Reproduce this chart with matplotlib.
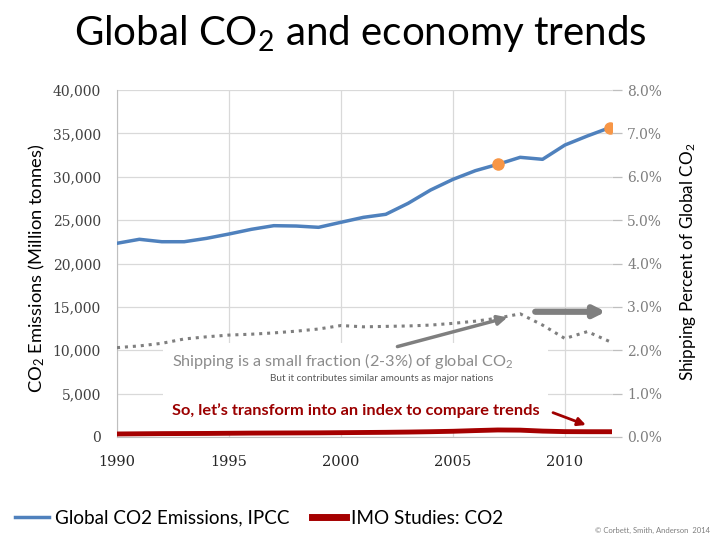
import matplotlib
matplotlib.use("Agg")
import matplotlib.pyplot as plt
from matplotlib.lines import Line2D
from matplotlib.patches import Rectangle
from matplotlib.ticker import FuncFormatter

plt.rcParams['font.family'] = ['Lato', 'DejaVu Sans']
plt.rcParams['mathtext.default'] = 'regular'

years = list(range(1990, 2013))
global_co2 = [22330, 22790, 22510, 22510, 22900, 23400, 23940, 24360, 24320, 24170, 24750, 25320,
              25670, 26940, 28470, 29700, 30700, 31430, 32240, 32010, 33660, 34700, 35660]
imo_co2 = [350, 370, 390, 400, 410, 430, 450, 460, 470, 480, 500, 520,
           540, 570, 610, 660, 740, 810, 790, 680, 620, 610, 610]
ship_pct = [2.06, 2.10, 2.16, 2.26, 2.31, 2.35, 2.37, 2.40, 2.44, 2.49, 2.57, 2.54,
            2.55, 2.56, 2.58, 2.62, 2.67, 2.74, 2.84, 2.58, 2.27, 2.43, 2.20]
marker_years = [2007, 2012]
marker_vals = [31430, 35660]

blue = '#4f81bd'
red = '#a50000'
grey = '#7f7f7f'

fig = plt.figure(figsize=(7.2, 5.4), dpi=100)
ax = fig.add_axes([117 / 720, 103 / 540, 495 / 720, 347 / 540])
ax2 = ax.twinx()

ax.set_xlim(1990, 2012.1)
ax.set_ylim(0, 40000)
ax2.set_ylim(0, 8)

ax.set_axisbelow(True)
ax.grid(True, color='#d9d9d9', lw=0.9)
ax.set_xticks([1990, 1995, 2000, 2005, 2010])
ax.set_yticks(range(0, 40001, 5000))
ax.yaxis.set_major_formatter(FuncFormatter(lambda v, p: f'{int(v):,}'))
ax2.set_yticks(range(0, 9))
ax2.yaxis.set_major_formatter(FuncFormatter(lambda v, p: f'{v:.1f}%'))

for s in ['top', 'right']:
    ax.spines[s].set_visible(False)
for s in ['top', 'right', 'left', 'bottom']:
    ax2.spines[s].set_visible(False)
ax.spines['left'].set_color('#bfbfbf')
ax.spines['bottom'].set_color('#bfbfbf')

ax.tick_params(axis='y', length=0, pad=11.5, labelsize=10, labelcolor='#404040')
ax.tick_params(axis='x', length=0, pad=13, labelsize=10.5, labelcolor='#262626')
ax2.tick_params(axis='y', length=7, width=0.9, color='#bfbfbf', pad=4, labelsize=10, labelcolor='#7f7f7f')
for lab in ax.get_xticklabels() + ax.get_yticklabels() + ax2.get_yticklabels():
    lab.set_family('DejaVu Serif')

# white box behind the notes
ax.add_patch(Rectangle((1992.05, 690), 17.2, 10150, facecolor='white', edgecolor='none', zorder=1))

ax.plot(years, global_co2, color=blue, lw=2.5, zorder=3)
ax.plot(years, imo_co2, color=red, lw=3.5, zorder=3)
ax.plot(marker_years, marker_vals, 'o', color='#f79646', ms=8, zorder=4)
ax2.plot(years, ship_pct, color=grey, lw=2.2, ls=(0, (1, 1.6)))

ax.text(1992.45, 8760, 'Shipping is a small fraction (2-3%) of global CO$_2$', fontsize=11.7,
        color='#8c8c8c', va='center', zorder=5)
ax.text(1996.85, 6700, 'But it contributes similar amounts as major nations', fontsize=7.2,
        color='#595959', va='center', zorder=5)
ax.text(1992.45, 3000, 'So, let\u2019s transform into an index to compare trends', fontsize=11.8,
        color='#9b0000', fontweight='bold', va='center', zorder=5)

ax.annotate('', xy=(2007.55, 13870), xytext=(2002.4, 10340),
            arrowprops=dict(arrowstyle='-|>', color=grey, lw=2.5, mutation_scale=14), zorder=5)
ax.annotate('', xy=(2011.95, 14440), xytext=(2008.55, 14440),
            arrowprops=dict(arrowstyle='-|>', color=grey, lw=4.5, mutation_scale=16), zorder=5)
ax.annotate('', xy=(2011.05, 1270), xytext=(2009.35, 2920),
            arrowprops=dict(arrowstyle='-|>', color='#a00000', lw=2, mutation_scale=12), zorder=5)

fig.text(0.5, 1 - 33 / 540, 'Global CO$_2$ and economy trends', fontsize=29, ha='center', va='center')
fig.text(37 / 720, 1 - 268 / 540, 'CO$_2$ Emissions (Million tonnes)', fontsize=13.2, rotation=90,
         ha='center', va='center')
fig.text(688 / 720, 1 - 262 / 540, 'Shipping Percent of Global CO$_2$', fontsize=12.3, rotation=90,
         ha='center', va='center')

handles = [Line2D([], [], color=blue, lw=2.5), Line2D([], [], color=red, lw=5)]
fig.legend(handles, ['Global CO2 Emissions, IPCC', 'IMO Studies: CO2'], loc='center left',
           bbox_to_anchor=(-0.003, 1 - 518 / 540), ncol=2, frameon=False, fontsize=13.6,
           handlelength=1.8, handletextpad=0.3, columnspacing=1.2)

fig.text(710 / 720, 1 - 530 / 540, '\u00a9 Corbett, Smith, Anderson  2014', fontsize=5.5,
         color='#7f7f7f', ha='right', va='center')

fig.savefig('out.png', dpi=100)
